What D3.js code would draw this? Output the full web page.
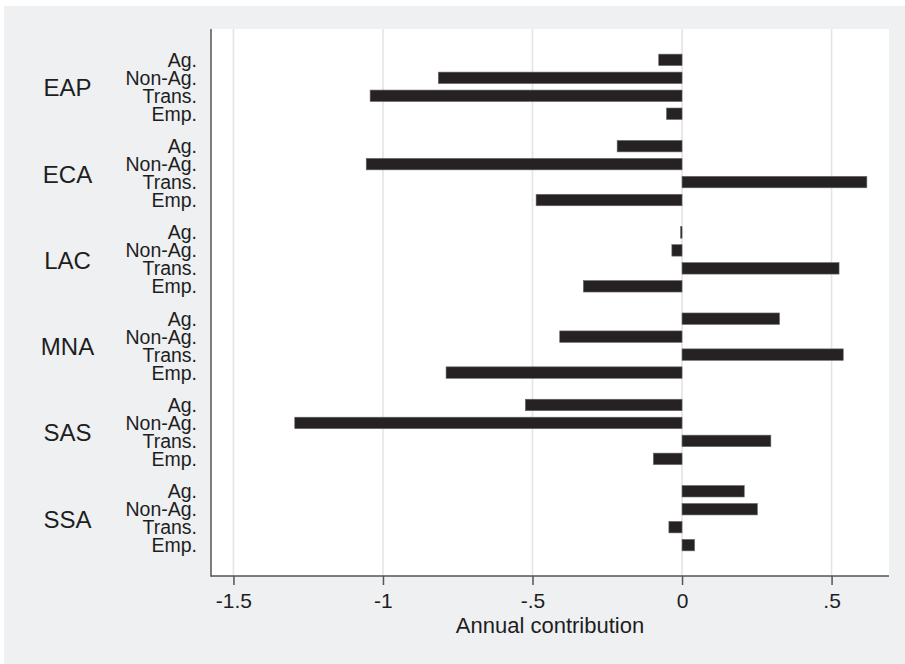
<!DOCTYPE html>
<html>
<head>
<meta charset="utf-8">
<script src="https://cdn.jsdelivr.net/npm/d3@7"></script>
<style>
  html, body { margin: 0; padding: 0; background: #ffffff; }
  svg { display: block; font-family: "Liberation Sans", Arial, Helvetica, sans-serif; }
</style>
</head>
<body>
<svg id="chart" width="905" height="664"></svg>
<script>
// Regions and the four components of each region's annual contribution
const regions = ["EAP", "ECA", "LAC", "MNA", "SAS", "SSA"];
const components = ["Ag.", "Non-Ag.", "Trans.", "Emp."];

// One value per region, in the order of `regions`
const agValues    = [-0.078, -0.217, -0.005,  0.326, -0.524,  0.208];
const nonAgValues = [-0.815, -1.056, -0.034, -0.409, -1.295,  0.252];
const transValues = [-1.043,  0.618,  0.525,  0.539,  0.297, -0.044];
const empValues   = [-0.052, -0.488, -0.330, -0.789, -0.096,  0.042];

const xTicks = [-1.5, -1, -0.5, 0, 0.5];
const xTickLabels = ["-1.5", "-1", "-.5", "0", ".5"];
const xTitle = "Annual contribution";

const seriesByComponent = {
  "Ag.": agValues,
  "Non-Ag.": nonAgValues,
  "Trans.": transValues,
  "Emp.": empValues
};

const rows = [];
regions.forEach((r, i) => {
  components.forEach(c => rows.push({ region: r, component: c, value: seriesByComponent[c][i] }));
});

const W = 905, H = 664;
const plot = { left: 211, right: 889, top: 29, bottom: 576 };

const svg = d3.select("#chart");

// Page background and graph region
svg.append("rect").attr("x", 0).attr("y", 0).attr("width", W).attr("height", H).attr("fill", "#ffffff");
svg.append("rect").attr("x", 4).attr("y", 6).attr("width", W - 4).attr("height", H - 6).attr("fill", "#eef0f2");
svg.append("rect")
  .attr("x", plot.left).attr("y", plot.top)
  .attr("width", plot.right - plot.left).attr("height", plot.bottom - plot.top)
  .attr("fill", "#ffffff");

// Scales
const x = d3.scaleLinear().domain([-1.575, 0.692]).range([plot.left, plot.right]);

const yGroup = d3.scaleBand()
  .domain(regions)
  .range([plot.top, plot.bottom])
  .paddingInner(0.1676)
  .paddingOuter(0.254);

const yItem = d3.scaleBand()
  .domain(components)
  .range([0, yGroup.bandwidth()])
  .paddingInner(0.361)
  .paddingOuter(0.18);

// Vertical grid lines
svg.append("g")
  .selectAll("line")
  .data(xTicks)
  .join("line")
  .attr("x1", d => x(d)).attr("x2", d => x(d))
  .attr("y1", plot.top).attr("y2", plot.bottom)
  .attr("stroke", "#e4e4e4")
  .attr("stroke-width", 1.6);

// Bars
svg.append("g")
  .selectAll("rect")
  .data(rows)
  .join("rect")
  .attr("x", d => Math.min(x(0), x(d.value)))
  .attr("width", d => Math.max(1.5, Math.abs(x(d.value) - x(0))))
  .attr("y", d => yGroup(d.region) + yItem(d.component))
  .attr("height", yItem.bandwidth())
  .attr("fill", "#262223")
  .attr("stroke", "#6a6a6a")
  .attr("stroke-width", 0.6);

// Bottom axis
const xAxis = d3.axisBottom(x)
  .tickValues(xTicks)
  .tickFormat((d, i) => xTickLabels[i])
  .tickSize(9)
  .tickPadding(6);

const gx = svg.append("g")
  .attr("transform", `translate(0,${plot.bottom})`)
  .call(xAxis);
gx.select(".domain").remove();
gx.selectAll(".tick line").attr("stroke", "#555555").attr("stroke-width", 1.5);
gx.selectAll(".tick text")
  .attr("fill", "#1e1e1e")
  .attr("font-size", 21)
  .attr("font-family", "\"Liberation Sans\", Arial, sans-serif")
  .attr("dy", null)
  .attr("y", 32);

svg.append("line")
  .attr("x1", plot.left).attr("x2", plot.right)
  .attr("y1", plot.bottom).attr("y2", plot.bottom)
  .attr("stroke", "#555555").attr("stroke-width", 1.5);

// Left axis line
svg.append("line")
  .attr("x1", plot.left).attr("x2", plot.left)
  .attr("y1", plot.top).attr("y2", plot.bottom + 0.75)
  .attr("stroke", "#555555").attr("stroke-width", 1.5);

// Axis title
svg.append("text")
  .attr("x", (plot.left + plot.right) / 2)
  .attr("y", 633)
  .attr("text-anchor", "middle")
  .attr("font-size", 22)
  .attr("fill", "#1e1e1e")
  .text(xTitle);

// Component labels beside each bar
svg.append("g")
  .selectAll("text")
  .data(rows)
  .join("text")
  .attr("x", 197)
  .attr("y", d => yGroup(d.region) + yItem(d.component) + yItem.bandwidth() / 2 + 7)
  .attr("text-anchor", "end")
  .attr("font-size", 19.5)
  .attr("fill", "#1e1e1e")
  .text(d => d.component);

// Region labels
svg.append("g")
  .selectAll("text")
  .data(regions)
  .join("text")
  .attr("x", 67.5)
  .attr("y", d => yGroup(d) + yGroup.bandwidth() / 2 + 9.5)
  .attr("text-anchor", "middle")
  .attr("font-size", 24)
  .attr("fill", "#1e1e1e")
  .text(d => d);
</script>
</body>
</html>
